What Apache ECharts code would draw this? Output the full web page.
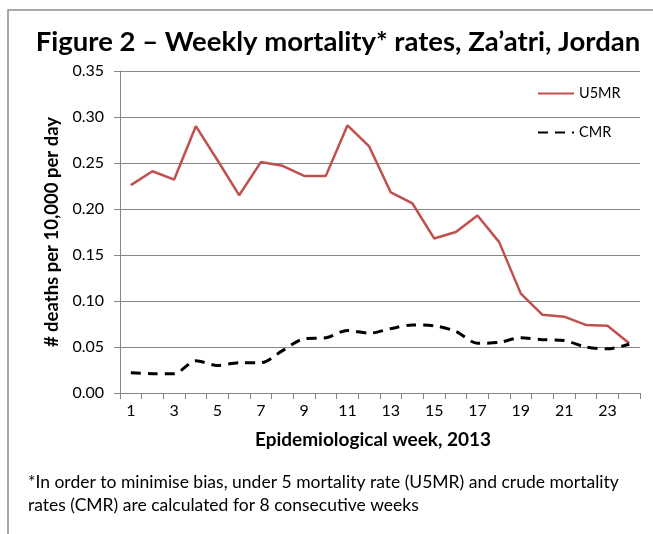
<!DOCTYPE html>
<html>
<head>
<meta charset="utf-8">
<script src="https://cdn.jsdelivr.net/npm/echarts@6/dist/echarts.min.js"></script>
<style>html,body{margin:0;padding:0;background:#fff}#c{width:653px;height:534px}</style>
</head>
<body>
<div id="c"></div>
<script>
var weeks = ['1','2','3','4','5','6','7','8','9','10','11','12','13','14','15','16','17','18','19','20','21','22','23','24'];
var u5mr = [0.226,0.241,0.232,0.290,0.253,0.215,0.251,0.247,0.236,0.236,0.291,0.268,0.218,0.206,0.168,0.175,0.193,0.164,0.108,0.085,0.083,0.074,0.073,0.054];
var cmr = [0.022,0.021,0.021,0.035,0.030,0.033,0.033,0.046,0.059,0.060,0.068,0.065,0.070,0.074,0.073,0.067,0.054,0.055,0.060,0.058,0.057,0.050,0.048,0.053];
var yTicks = ['0.00','0.05','0.10','0.15','0.20','0.25','0.30','0.35'];
var FONT = 'Lato';
var chart = echarts.init(document.getElementById('c'), null, {renderer:'canvas'});
chart.setOption({
  animation: false,
  backgroundColor: '#fff',
  title: {
    text: 'Figure 2 \u2013 Weekly mortality* rates, Za\u2019atri, Jordan',
    left: 333, top: 23, textAlign: 'center',
    textStyle: {fontFamily: FONT, fontWeight: 'bold', fontSize: 27.5, color: '#000'}
  },
  graphic: [
    {type:'rect', shape:{x:8, y:10, width:700, height:600}, style:{fill:'none', stroke:'#8a8a8a', lineWidth:1.5}, z:-1},
    {type:'text', left: 28, top: 471, style:{text:'*In order to minimise bias, under 5 mortality rate (U5MR) and crude mortality\nrates (CMR) are calculated for 8 consecutive weeks', fontFamily: FONT, fontSize: 17.5, lineHeight: 23, fill:'#000'}}
  ],
  legend: {
    orient: 'vertical', left: 537, top: 86, padding: 0, itemGap: 24, itemWidth: 36, itemHeight: 18,
    itemStyle: {opacity: 0},
    textStyle: {fontFamily: FONT, fontSize: 14.5, color: '#000'},
    data: [{name:'U5MR'},{name:'CMR'}]
  },
  grid: {left: 120, top: 71, right: 13, bottom: 141},
  xAxis: {
    type: 'category', data: weeks, boundaryGap: true,
    name: 'Epidemiological week, 2013', nameLocation: 'middle', nameGap: 37,
    nameTextStyle: {fontFamily: FONT, fontWeight: 'bold', fontSize: 19, color: '#000', padding: [0, 14, 0, 0]},
    axisLine: {lineStyle: {color: '#868686', width: 1}},
    axisTick: {show: true, interval: 0, length: 6, lineStyle: {color: '#868686'}},
    axisLabel: {interval: 1, fontFamily: FONT, fontSize: 16, color: '#000', margin: 10}
  },
  yAxis: {
    type: 'value', min: 0, max: 0.35, interval: 0.05,
    name: '# deaths per 10,000 per day', nameLocation: 'middle', nameGap: 58,
    nameTextStyle: {fontFamily: FONT, fontWeight: 'bold', fontSize: 18.5, color: '#000'},
    axisLine: {show: true, lineStyle: {color: '#868686', width: 1}},
    axisTick: {show: true, length: 6, lineStyle: {color: '#868686'}},
    axisLabel: {fontFamily: FONT, fontSize: 16, color: '#000', margin: 16,
      formatter: function(v){ return yTicks[Math.round(v/0.05)]; }},
    splitLine: {lineStyle: {color: '#878787', width: 1}}
  },
  series: [
    {name:'U5MR', type:'line', data: u5mr, symbol:'none', color:'#C0504D',
     lineStyle:{color:'#C0504D', width:2.5}},
    {name:'CMR', type:'line', data: cmr, symbol:'none', smooth: 0.3, color:'#000',
     lineStyle:{color:'#000', width:3, type:[10,7]}}
  ]
});
</script>
</body>
</html>
